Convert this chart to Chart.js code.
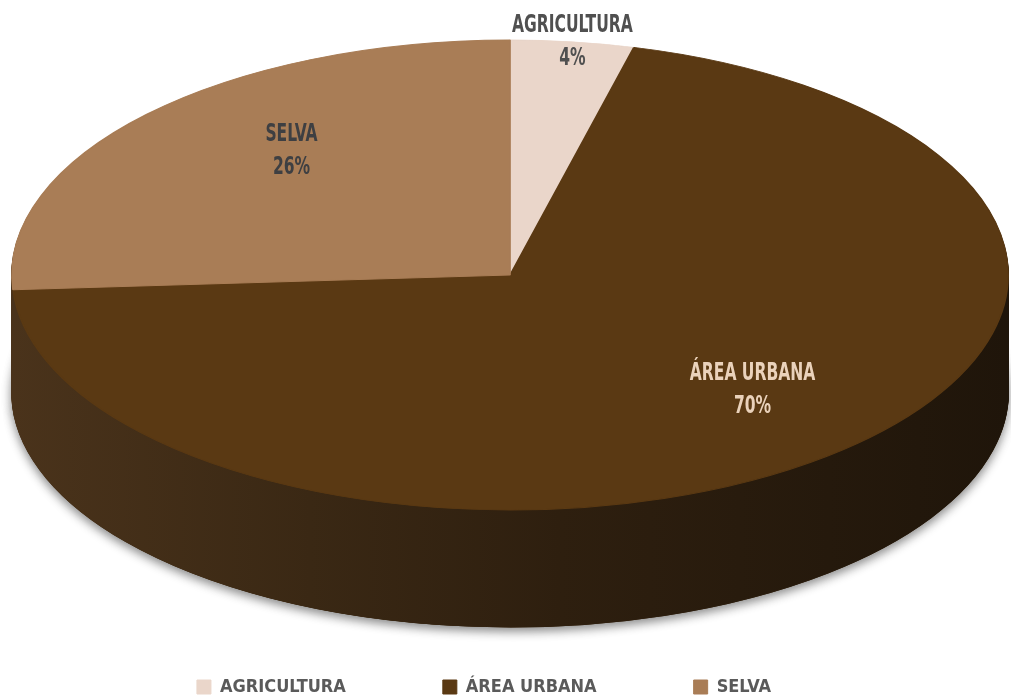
<!DOCTYPE html>
<html>
<head>
<meta charset="utf-8">
<script src="https://cdn.jsdelivr.net/npm/chart.js@4.4.1/dist/chart.umd.min.js"></script>
<style>
  html, body { margin: 0; padding: 0; background: #fff; overflow: hidden; }
  #wrap { width: 1011px; height: 698px; overflow: hidden; }
</style>
</head>
<body>
<div id="wrap"><canvas id="chart" width="1011" height="706"></canvas></div>
<script>
const categories = ['AGRICULTURA', 'ÁREA URBANA', 'SELVA'];
const shares = [4, 70, 26];
const sliceColors = ['#EAD6CA', '#5A3913', '#A97D56'];

// where the tilted pie sits on the canvas
const CX = 510, CY = 275, RX = 498, RY = 235, DEPTH = 117;
const LABEL_HUB = { x: 560, y: 220 };
const labelReach = [1.0, 0.72, 0.65];
const labelInk = ['#505050', '#EAD2BB', '#3E3F42'];
const labelFont = 'bold 24px "Liberation Sans Narrow", "DejaVu Sans Condensed", sans-serif';

const pie3d = {
  id: 'pie3d',
  beforeDatasetsDraw(chart) {
    const ctx = chart.ctx;
    const arcs = chart.getDatasetMeta(0).data;
    const R = arcs[0].outerRadius, ox = arcs[0].x, oy = arcs[0].y;
    const place = (dy) => {
      ctx.translate(CX, CY + dy);
      ctx.scale(RX / R, RY / R);
      ctx.translate(-ox, -oy);
    };
    const drawAll = () => arcs.forEach(a => a.draw(ctx));

    // side wall: stacked copies, then recoloured
    ctx.save();
    for (let d = DEPTH; d >= 1; d--) {
      ctx.save(); place(d); drawAll(); ctx.restore();
    }
    const g = ctx.createLinearGradient(CX - RX, 0, CX + RX, 0);
    g.addColorStop(0, '#4A331B');
    g.addColorStop(0.3, '#3A2814');
    g.addColorStop(0.55, '#2E1F0F');
    g.addColorStop(1, '#1F150A');
    ctx.globalCompositeOperation = 'source-atop';
    ctx.fillStyle = g;
    ctx.fillRect(0, 0, chart.width, CY + RY + DEPTH + 4);
    // soft shadow under the wall
    ctx.globalCompositeOperation = 'destination-over';
    ctx.shadowColor = 'rgba(0,0,0,0.45)';
    ctx.shadowBlur = 10;
    ctx.shadowOffsetY = 4;
    ctx.save(); place(DEPTH); drawAll(); ctx.restore();
    ctx.restore();

    // top face is drawn by the library under this transform
    ctx.save();
    place(0);
  },
  afterDatasetsDraw(chart) {
    const ctx = chart.ctx;
    ctx.restore();
    const arcs = chart.getDatasetMeta(0).data;
    const total = shares.reduce((s, v) => s + v, 0);
    ctx.save();
    ctx.font = labelFont;
    ctx.textAlign = 'center';
    ctx.textBaseline = 'middle';
    arcs.forEach((a, i) => {
      const mid = (a.startAngle + a.endAngle) / 2;
      const ex = CX + RX * Math.cos(mid), ey = CY + RY * Math.sin(mid);
      const f = labelReach[i];
      const x = LABEL_HUB.x + f * (ex - LABEL_HUB.x);
      const y = LABEL_HUB.y + f * (ey - LABEL_HUB.y);
      ctx.fillStyle = labelInk[i];
      ctx.save();
      ctx.translate(x, y);
      ctx.scale(0.72, 1);
      ctx.fillText(categories[i], 0, -16);
      ctx.fillText(Math.round(shares[i] / total * 100) + '%', 0, 17);
      ctx.restore();
    });
    ctx.restore();
  }
};

new Chart(document.getElementById('chart'), {
  type: 'pie',
  data: {
    labels: categories,
    datasets: [{
      data: shares,
      backgroundColor: sliceColors,
      borderColor: sliceColors,
      borderWidth: 1
    }]
  },
  options: {
    responsive: false,
    animation: false,
    events: [],
    layout: { padding: { right: 43 } },
    plugins: {
      legend: {
        position: 'bottom',
        labels: {
          boxWidth: 14,
          boxHeight: 14,
          padding: 97,
          color: '#5A5A5A',
          font: { family: '"Liberation Sans Narrow", "DejaVu Sans Condensed", sans-serif', size: 18, weight: 'bold' }
        }
      },
      tooltip: { enabled: false }
    }
  },
  plugins: [pie3d]
});
</script>
</body>
</html>
